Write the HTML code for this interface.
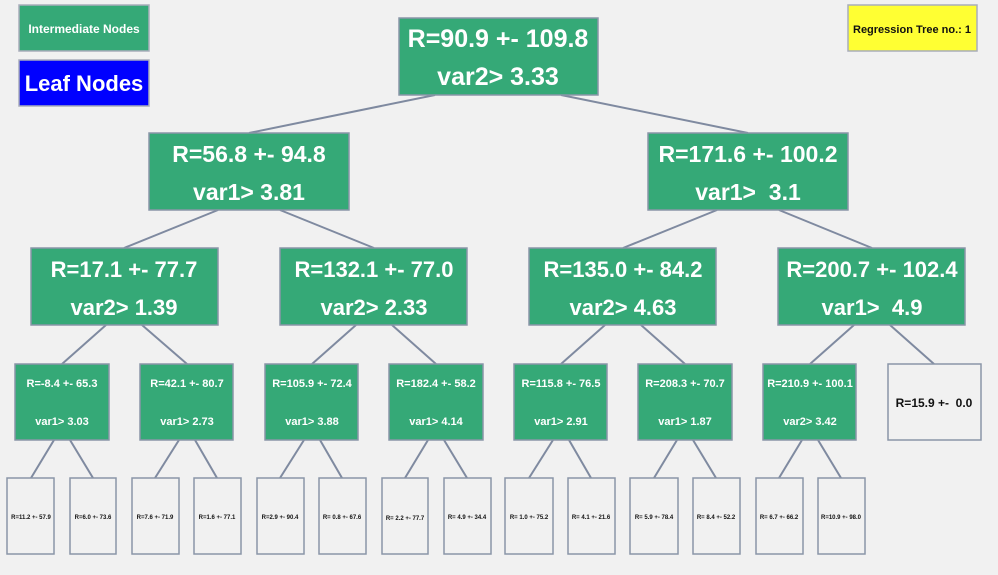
<!DOCTYPE html>
<html><head><meta charset="utf-8"><style>
body{margin:0;background:#f1f1f1;}
svg{display:block;font-family:"Liberation Sans",Arial,sans-serif;font-weight:bold;}
text{white-space:pre;}
</style></head><body>
<svg width="998" height="575" viewBox="0 0 998 575">
<rect width="998" height="575" fill="#f1f1f1"/>
<g stroke="#7f8aa0" stroke-width="2" fill="none">
<line x1="435" y1="95" x2="249" y2="133"/><line x1="561" y1="95" x2="748" y2="133"/>
<line x1="218" y1="210" x2="124" y2="248"/><line x1="280" y1="210" x2="374" y2="248"/>
<line x1="717" y1="210" x2="623" y2="248"/><line x1="779" y1="210" x2="872" y2="248"/>
<line x1="106" y1="325" x2="62" y2="364"/><line x1="142" y1="325" x2="187" y2="364"/>
<line x1="356" y1="325" x2="312" y2="364"/><line x1="392" y1="325" x2="436" y2="364"/>
<line x1="605" y1="325" x2="561" y2="364"/><line x1="641" y1="325" x2="685" y2="364"/>
<line x1="854" y1="325" x2="810" y2="364"/><line x1="890" y1="325" x2="934" y2="364"/>
<line x1="54" y1="440" x2="31" y2="478"/><line x1="70" y1="440" x2="93" y2="478"/>
<line x1="179" y1="440" x2="155" y2="478"/><line x1="195" y1="440" x2="217" y2="478"/>
<line x1="304" y1="440" x2="280" y2="478"/><line x1="320" y1="440" x2="342" y2="478"/>
<line x1="428" y1="440" x2="405" y2="478"/><line x1="444" y1="440" x2="467" y2="478"/>
<line x1="553" y1="440" x2="529" y2="478"/><line x1="569" y1="440" x2="591" y2="478"/>
<line x1="677" y1="440" x2="654" y2="478"/><line x1="693" y1="440" x2="716" y2="478"/>
<line x1="802" y1="440" x2="779" y2="478"/><line x1="818" y1="440" x2="841" y2="478"/>
</g>
<g stroke="#a9adbb" stroke-width="1.5">
<rect x="19" y="5" width="130" height="46" fill="#35a977"/>
<rect x="19" y="60" width="130" height="46" fill="#0000ff"/>
<rect x="848" y="5" width="129" height="46" fill="#ffff33"/>
<g fill="#35a977" stroke="#8a96a8">
<rect x="399" y="18" width="199" height="77"/>
<rect x="149" y="133" width="200" height="77"/><rect x="648" y="133" width="200" height="77"/>
<rect x="31" y="248" width="187" height="77"/><rect x="280" y="248" width="187" height="77"/>
<rect x="529" y="248" width="187" height="77"/><rect x="778" y="248" width="187" height="77"/>
<rect x="15" y="364" width="94" height="76"/><rect x="140" y="364" width="93" height="76"/>
<rect x="265" y="364" width="93" height="76"/><rect x="389" y="364" width="94" height="76"/>
<rect x="514" y="364" width="93" height="76"/><rect x="638" y="364" width="94" height="76"/>
<rect x="763" y="364" width="93" height="76"/>
</g>
<g fill="#f1f1f1" stroke="#8a96a8">
<rect x="888" y="364" width="93" height="76"/>
<rect x="7" y="478" width="47" height="76"/><rect x="70" y="478" width="46" height="76"/>
<rect x="132" y="478" width="47" height="76"/><rect x="194" y="478" width="47" height="76"/>
<rect x="257" y="478" width="47" height="76"/><rect x="319" y="478" width="47" height="76"/>
<rect x="382" y="478" width="46" height="76"/><rect x="444" y="478" width="47" height="76"/>
<rect x="505" y="478" width="48" height="76"/><rect x="568" y="478" width="47" height="76"/>
<rect x="630" y="478" width="48" height="76"/><rect x="693" y="478" width="47" height="76"/>
<rect x="756" y="478" width="47" height="76"/><rect x="818" y="478" width="47" height="76"/>
</g>
</g>
<g text-anchor="middle" fill="#fff">
<text x="84" y="33" font-size="12">Intermediate Nodes</text>
<text x="84" y="91" font-size="22">Leaf Nodes</text>
<g font-size="25">
<text x="498" y="47">R=90.9 +- 109.8</text><text x="498" y="85">var2&gt; 3.33</text>
</g>
<g font-size="23">
<text x="249" y="162">R=56.8 +- 94.8</text><text x="249" y="200">var1&gt; 3.81</text>
<text x="748" y="162">R=171.6 +- 100.2</text><text x="748" y="200">var1&gt;  3.1</text>
</g>
<g font-size="22">
<text x="124" y="277">R=17.1 +- 77.7</text><text x="124" y="315">var2&gt; 1.39</text>
<text x="374" y="277">R=132.1 +- 77.0</text><text x="374" y="315">var2&gt; 2.33</text>
<text x="623" y="277">R=135.0 +- 84.2</text><text x="623" y="315">var2&gt; 4.63</text>
<text x="872" y="277">R=200.7 +- 102.4</text><text x="872" y="315">var1&gt;  4.9</text>
</g>
<g font-size="11">
<text x="62" y="387">R=-8.4 +- 65.3</text><text x="62" y="425">var1&gt; 3.03</text>
<text x="187" y="387">R=42.1 +- 80.7</text><text x="187" y="425">var1&gt; 2.73</text>
<text x="312" y="387">R=105.9 +- 72.4</text><text x="312" y="425">var1&gt; 3.88</text>
<text x="436" y="387">R=182.4 +- 58.2</text><text x="436" y="425">var1&gt; 4.14</text>
<text x="561" y="387">R=115.8 +- 76.5</text><text x="561" y="425">var1&gt; 2.91</text>
<text x="685" y="387">R=208.3 +- 70.7</text><text x="685" y="425">var1&gt; 1.87</text>
<text x="810" y="387">R=210.9 +- 100.1</text><text x="810" y="425">var2&gt; 3.42</text>
</g>
</g>
<g text-anchor="middle" fill="#111">
<text x="912" y="33" font-size="11">Regression Tree no.: 1</text>
<text x="934" y="407" font-size="12">R=15.9 +-  0.0</text>
<g font-size="6">
<text x="31" y="519">R=11.2 +- 57.9</text><text x="93" y="519">R=6.0 +- 73.6</text>
<text x="155" y="519">R=7.6 +- 71.9</text><text x="217" y="519">R=1.6 +- 77.1</text>
<text x="280" y="519">R=2.9 +- 90.4</text><text x="342" y="519">R= 0.8 +- 67.6</text>
<text x="405" y="520">R= 2.2 +- 77.7</text><text x="467" y="519">R= 4.9 +- 34.4</text>
<text x="529" y="519">R= 1.0 +- 75.2</text><text x="591" y="519">R= 4.1 +- 21.6</text>
<text x="654" y="519">R= 5.9 +- 78.4</text><text x="716" y="519">R= 8.4 +- 52.2</text>
<text x="779" y="519">R= 6.7 +- 66.2</text><text x="841" y="519">R=10.9 +- 98.0</text>
</g>
</g>
</svg>
</body></html>
